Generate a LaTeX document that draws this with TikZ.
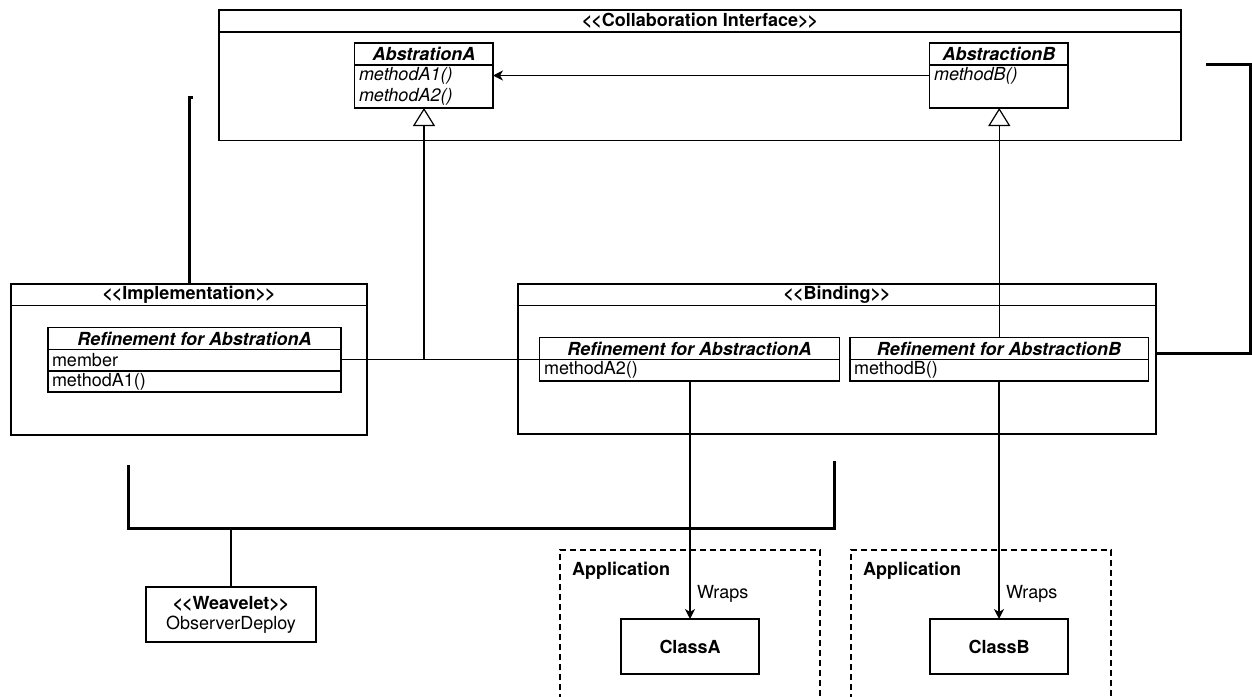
\documentclass[tikz,border=0pt]{standalone}
\usepackage{fontspec}
\setmainfont{TeX Gyre Heros}
\usetikzlibrary{arrows.meta}
% stereotype guillemets written as separate, tightly set characters
\newcommand\stereo[1]{<\kern-1pt<#1>\kern-1pt>}
% a box node: name, x, y (north west corner), width, height
\newcommand\umlbox[5]{\node[box, minimum width=#4pt, minimum height=#5pt] (#1) at (#2,#3) {};}
\begin{document}
\begin{tikzpicture}[x=1pt,y=-1pt,
  every node/.style={inner sep=0pt, outer sep=0pt, font={\fontsize{18}{21}\selectfont}},
  box/.style={draw, line width=1.2pt, anchor=north west, fill=none},
  ttl/.style={font={\fontsize{18}{21}\selectfont\bfseries}},
  absttl/.style={font={\fontsize{18}{21}\selectfont\bfseries\itshape}},
  member/.style={anchor=west},
  absmember/.style={anchor=west, font={\fontsize{18}{21}\selectfont\itshape}},
  sep/.style={line width=1.2pt},
  assoc/.style={line width=1.2pt, -{Stealth[length=10pt,width=10pt,inset=3pt]}},
  inherit/.style={line width=1.2pt, -{Triangle[open,length=18pt,width=22pt]}},
  bracket/.style={line width=3pt},
  appframe/.style={line width=1.2pt, dash pattern=on 6pt off 4pt}
]
\useasboundingbox (0,0) rectangle (1252,696);

% collaboration interface package
\umlbox{collab}{219}{10}{962}{130.5}
\draw[sep] (collab.west |- 0,32) -- (collab.east |- 0,32);
\node[ttl] (collabT) at (700,21) {\stereo{Collaboration Interface}};

\umlbox{absA}{354.5}{43}{138.5}{65}
\draw[sep] (absA.west |- 0,65) -- (absA.east |- 0,65);
\node[absttl] (absAT) at (424,54) {AbstrationA};
\node[absmember] (absAm1) at (359,76) {methodA1()};
\node[absmember] (absAm2) at (359,97) {methodA2()};

\umlbox{absB}{929.5}{43}{138.5}{65}
\draw[sep] (absB.west |- 0,65) -- (absB.east |- 0,65);
\node[absttl] (absBT) at (999,54) {AbstractionB};
\node[absmember] (absBm1) at (934,76) {methodB()};

% implementation package
\umlbox{impl}{11}{284}{356}{151}
\draw[sep] (impl.west |- 0,305.5) -- (impl.east |- 0,305.5);
\node[ttl] (implT) at (189,295) {\stereo{Implementation}};

\umlbox{implA}{48}{327.5}{293}{64.5}
\draw[sep] (implA.west |- 0,349.5) -- (implA.east |- 0,349.5);
\draw[sep] (implA.west |- 0,371) -- (implA.east |- 0,371);
\node[absttl] (implAT) at (194.5,338.5) {Refinement for AbstrationA};
\node[member] (implAm1) at (52,360) {member};
\node[member] (implAm2) at (52,381.5) {methodA1()};

% binding package
\umlbox{bind}{518}{284}{638}{150}
\draw[sep] (bind.west |- 0,305.5) -- (bind.east |- 0,305.5);
\node[ttl] (bindT) at (837,295) {\stereo{Binding}};

\umlbox{bindA}{539.5}{337.5}{300}{43.5}
\draw[sep] (bindA.west |- 0,359.5) -- (bindA.east |- 0,359.5);
\node[absttl] (bindAT) at (689.5,348.5) {Refinement for AbstractionA};
\node[member] (bindAm1) at (544,370) {methodA2()};

\umlbox{bindB}{850}{337.5}{298.5}{43.5}
\draw[sep] (bindB.west |- 0,359.5) -- (bindB.east |- 0,359.5);
\node[absttl] (bindBT) at (999,348.5) {Refinement for AbstractionB};
\node[member] (bindBm1) at (854,370) {methodB()};

% weavelet
\umlbox{weave}{146}{587}{170}{55}
\node[ttl] (weaveT) at (231,604) {\stereo{Weavelet}};
\node (weaveN) at (231,625) {ObserverDeploy};

% application frames
\draw[appframe] (560,700) -- (560,550) -- (820,550) -- (820,700);
\node[ttl, anchor=west] (app1) at (572,571) {Application};
\draw[appframe] (851,700) -- (851,550) -- (1111,550) -- (1111,700);
\node[ttl, anchor=west] (app2) at (863,571) {Application};

\umlbox{classA}{621}{619}{138}{55}
\node[ttl] (classAT) at (690,646.5) {ClassA};
\umlbox{classB}{930}{619}{138}{55}
\node[ttl] (classBT) at (999,646.5) {ClassB};

% connectors
\draw[assoc] (absB.west |- 0,75.5) -- (absA.east |- 0,75.5);
\coordinate (j) at (424,359.5);
\draw[sep] (implA.east |- j) -- (bindA.west |- j);
\draw[inherit] (j) -- (j |- absA.south);
\draw[inherit] (bindB.north) -- (bindB.north |- absB.south);
\draw[assoc] (classA.north |- bindA.south) -- (classA.north);
\draw[assoc] (classB.north |- bindB.south) -- (classB.north);
\node[anchor=west] (wrapsA) at (697,594) {Wraps};
\node[anchor=west] (wrapsB) at (1006,594) {Wraps};

% composition brackets
\draw[bracket] (impl.north) -- (189,97) -- (193,97);
\draw[bracket] (bind.east |- 0,353) -- (1250.5,353) -- (1250.5,64) -- (1206,64);
\draw[bracket] (128,465) -- (128,528) -- (834,528) -- (834,461);
\draw[bracket, line width=2.6pt] (weave.north |- 0,528) -- (weave.north);
\end{tikzpicture}
\end{document}
